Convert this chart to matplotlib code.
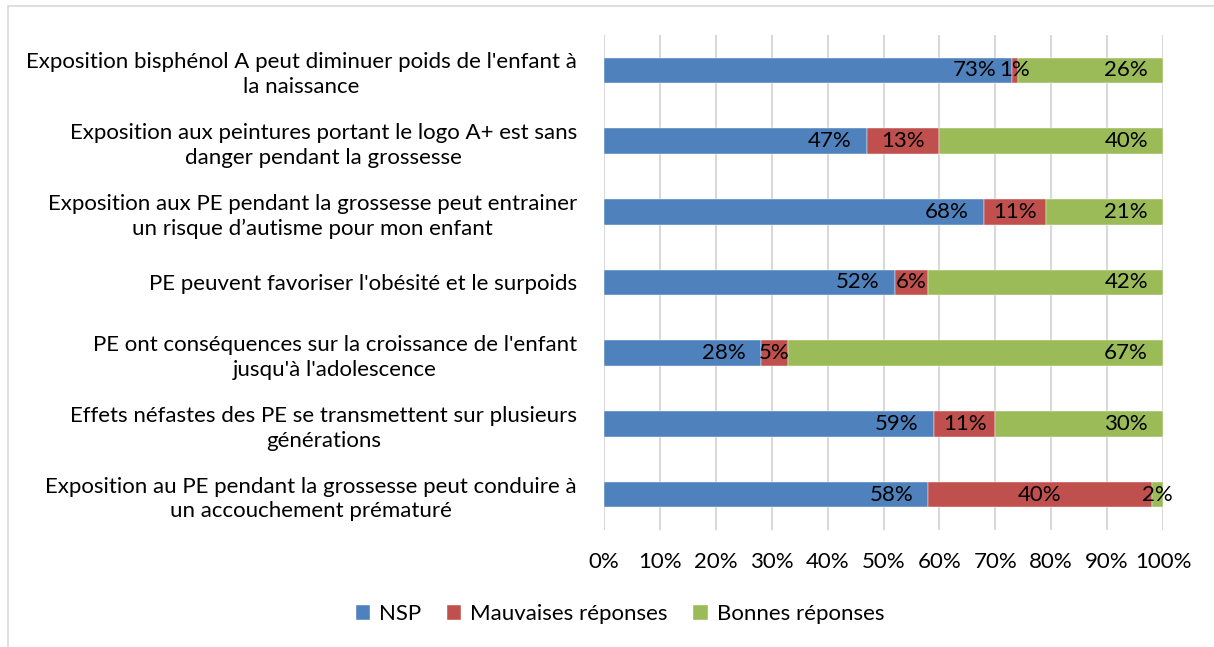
import matplotlib.pyplot as plt
from matplotlib.patches import Rectangle

plt.rcParams["font.family"] = ["Lato", "DejaVu Sans"]

# Questions, top to bottom
questions = [
    "Exposition bisphénol A peut diminuer poids de l'enfant à\nla naissance",
    "Exposition aux peintures portant le logo A+ est sans\ndanger pendant la grossesse",
    "Exposition aux PE pendant la grossesse peut entrainer\nun risque d\u2019autisme pour mon enfant",
    "PE peuvent favoriser l'obésité et le surpoids",
    "PE ont conséquences sur la croissance de l'enfant\njusqu'à l'adolescence",
    "Effets néfastes des PE se transmettent sur plusieurs\ngénérations",
    "Exposition au PE pendant la grossesse peut conduire à\nun accouchement prématuré",
]
nsp = [73, 47, 68, 52, 28, 59, 58]
mauvaises = [1, 13, 11, 6, 5, 11, 40]
bonnes = [26, 40, 21, 42, 67, 30, 2]

series_names = ["NSP", "Mauvaises réponses", "Bonnes réponses"]
colors = ["#4F81BD", "#C0504D", "#9BBB59"]

fig = plt.figure(figsize=(12.14, 6.47), dpi=100)
ax = fig.add_axes([604 / 1214, 1 - 530 / 647, 559 / 1214, 495 / 647])

# Light frame around the chart area
fig.patches.append(Rectangle((8 / 1214, -0.01), 1.1, 1 - 6 / 647 + 0.01,
                             transform=fig.transFigure, fill=False,
                             edgecolor="#D9D9D9", linewidth=1.2))

ypos = list(range(len(questions)))
left = [0] * len(questions)
for vals, name, col in zip([nsp, mauvaises, bonnes], series_names, colors):
    ax.barh(ypos, vals, left=left, height=0.36, color=col, label=name,
            edgecolor="white", linewidth=0.3, zorder=3)
    for i, v in enumerate(vals):
        if name == "Mauvaises réponses" or v < 5:
            ax.text(left[i] + v / 2, i, f"{v}%", ha="center", va="center",
                    fontsize=16, zorder=4)
        else:
            ax.text(left[i] + v - 2.7, i, f"{v}%", ha="right", va="center",
                    fontsize=16, zorder=4)
    left = [a + b for a, b in zip(left, vals)]

ax.set_xlim(0, 100)
ax.set_ylim(len(questions) - 0.5, -0.5)
ax.set_xticks(range(0, 101, 10))
ax.set_xticklabels([f"{t}%" for t in range(0, 101, 10)], fontsize=16)
ax.set_yticks(ypos)
ax.set_yticklabels(questions, fontsize=16, multialignment="center",
                   linespacing=1.3)
ax.tick_params(axis="x", length=0, pad=16)
ax.tick_params(axis="y", length=0, pad=19.5)
ax.grid(axis="x", color="#D9D9D9", linewidth=1.5, zorder=0)
for s in ax.spines.values():
    s.set_visible(False)

ax.legend(loc="center", bbox_to_anchor=(620 / 1214, 1 - 614 / 647),
          bbox_transform=fig.transFigure, ncol=3, frameon=False,
          fontsize=16, handlelength=0.65, handleheight=0.65,
          columnspacing=1.15, handletextpad=0.4)

fig.savefig("out.png", dpi=100)
